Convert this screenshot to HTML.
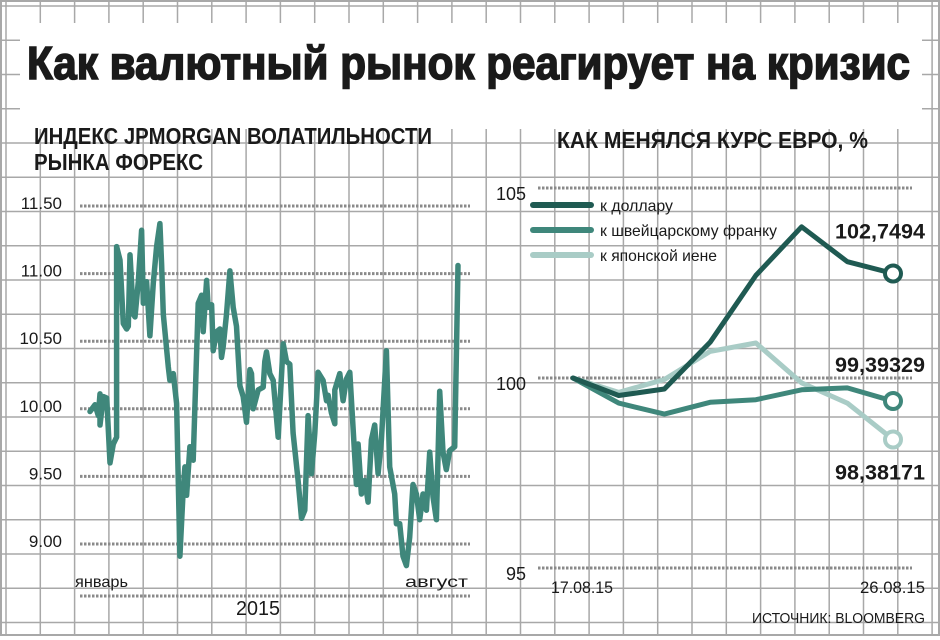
<!DOCTYPE html>
<html><head><meta charset="utf-8"><style>
html,body{margin:0;padding:0;background:#fff;}
svg{display:block;}
text{font-family:"Liberation Sans","DejaVu Sans",sans-serif;fill:#1a1a1a;}
</style></head><body>
<svg id="svg" width="940" height="640" viewBox="0 0 940 640" xmlns="http://www.w3.org/2000/svg">
<g id="grid"></g>
<rect x="20" y="23" width="902" height="106" fill="#fff"/>
<text x="27" y="79" font-size="46" font-weight="bold" stroke="#1a1a1a" stroke-width="1.6" textLength="883" lengthAdjust="spacingAndGlyphs">Как валютный рынок реагирует на кризис</text>
<text x="34" y="144" font-size="23" font-weight="bold" textLength="398" lengthAdjust="spacingAndGlyphs">ИНДЕКС JPMORGAN ВОЛАТИЛЬНОСТИ</text>
<text x="34" y="170" font-size="23" font-weight="bold" textLength="169" lengthAdjust="spacingAndGlyphs">РЫНКА ФОРЕКС</text>
<text x="557" y="148" font-size="23" font-weight="bold" textLength="311" lengthAdjust="spacingAndGlyphs">КАК МЕНЯЛСЯ КУРС ЕВРО, %</text>
<g id="left"></g>
<g id="right"></g>
<text x="75" y="587" font-size="16" textLength="53" lengthAdjust="spacingAndGlyphs">январь</text>
<text x="405" y="587" font-size="16" textLength="63" lengthAdjust="spacingAndGlyphs">август</text>
<line x1="80" y1="596" x2="470" y2="596" stroke="#8a8a8a" stroke-width="3" stroke-dasharray="2.5 1.5"/>
<text x="236" y="615" font-size="20" textLength="44" lengthAdjust="spacingAndGlyphs">2015</text>
<text x="551" y="593" font-size="17" textLength="62" lengthAdjust="spacingAndGlyphs">17.08.15</text>
<text x="860" y="593" font-size="17" textLength="65" lengthAdjust="spacingAndGlyphs">26.08.15</text>
<text x="752" y="623" font-size="15" textLength="173" lengthAdjust="spacingAndGlyphs">ИСТОЧНИК: BLOOMBERG</text>
</svg>
<script>
// ---- Left chart data (JPMorgan FX volatility index, 2015) ----
const volDays = [0,3,5,6,6,8,10,12,14,16,16,18,20,22,23,24,26,27,29,31,32,34,36,38,40,42,43,44,47,48,50,52,54,56,57,58,60,62,65,67,68,70,71,73,74,76,78,79,80,82,84,86,88,90,92,94,96,97,98,101,104,105,106,108,110,113,116,118,120,122,125,127,129,131,133,135,137,140,142,143,145,147,147,150,152,154,156,160,161,163,165,167,169,171,173,175,178,180,183,184,186,188,190,192,194,196,198,200,202,204,206,208,210,212,214,216,219,221];
const volValues = [9.98,10.03,9.95,10.11,9.88,10.09,10.08,9.60,9.74,9.79,11.20,11.10,10.63,10.59,10.61,11.14,10.70,10.68,10.94,11.32,10.78,10.94,10.54,10.93,11.20,11.37,11.07,10.70,10.31,10.21,10.26,10.04,8.91,9.40,9.57,9.36,9.72,9.62,10.78,10.84,10.57,10.95,10.75,10.77,10.43,10.57,10.59,10.38,10.46,10.70,11.02,10.75,10.61,10.17,10.09,9.90,10.29,10.26,10.00,10.14,10.16,10.35,10.42,10.26,10.21,9.79,10.48,10.35,10.33,9.82,9.47,9.19,9.25,9.95,9.52,9.82,10.27,10.21,10.06,10.10,9.97,9.89,10.14,10.26,10.06,10.22,10.27,9.44,9.74,9.37,9.47,9.31,9.77,9.88,9.52,9.77,10.43,9.57,9.37,9.15,9.15,8.91,8.84,9.05,9.44,9.37,9.18,9.37,9.25,9.68,9.35,9.18,10.13,9.68,9.55,9.69,9.72,11.06];
const volTicks = [11.5,11.0,10.5,10.0,9.5,9.0];
const volTickLabels = ["11.50","11.00","10.50","10.00","9.50","9.00"];

// ---- Right chart data (euro exchange rate, %) ----
const fxDates = ["17.08","18.08","19.08","20.08","21.08","24.08","25.08","26.08"];
const usdValues = [100,99.54,99.71,100.94,102.7,103.98,103.06,102.7494];
const chfValues = [100,99.34,99.05,99.36,99.43,99.69,99.74,99.39329];
const jpyValues = [100,99.62,99.96,100.70,100.92,99.87,99.34,98.38171];
const fxTicks = [105,100,95];
const fxSeriesNames = ["к доллару","к швейцарскому франку","к японской иене"];
const fxEndLabels = ["102,7494","99,39329","98,38171"];

const NS = "http://www.w3.org/2000/svg";
function mk(tag, attrs, parent){
  const e = document.createElementNS(NS, tag);
  for (const k in attrs) e.setAttribute(k, attrs[k]);
  parent.appendChild(e);
  return e;
}

// grid
const grid = document.getElementById('grid');
for (let i = 0; i <= 27; i++) {
  const x = 6 + i * 34.3;
  const l = mk('line', {x1:x, y1:0, x2:x, y2:636, stroke:'#a8a8a8', 'stroke-width':1.5}, grid);
  
  
}
for (let j = 0; j <= 18; j++) {
  const y = 6 + j * 34.25;
  const l = mk('line', {x1:0, y1:y, x2:940, y2:y, stroke:'#a8a8a8', 'stroke-width':1.5}, grid);
  
  
}
const border = mk('rect', {x:1, y:1, width:938, height:634, fill:'none', stroke:'#a8a8a8', 'stroke-width':2}, grid);



// left chart scales
const L = document.getElementById('left');
const lx = d => 90 + d * (368 / 221);
const ly = v => 206 + (11.5 - v) * (338 / 2.5);
volTicks.forEach((t, i) => {
  const y = ly(t);
  const gl = mk('line', {x1:80, y1:y, x2:470, y2:y, stroke:'#8a8a8a', 'stroke-width':3, 'stroke-dasharray':'2.5 1.5'}, L);
  
  
  const tx = mk('text', {x:62, y:y + 3, 'font-size':17, 'text-anchor':'end'}, L);
  tx.textContent = volTickLabels[i];
  
  
});
const vp = volValues.map((v, i) => lx(volDays[i]).toFixed(1) + ',' + ly(v).toFixed(1)).join(' ');
const vline = mk('polyline', {points:vp, fill:'none', stroke:'#3f877b', 'stroke-width':5.5, 'stroke-linejoin':'round', 'stroke-linecap':'round'}, L);



// right chart scales
const R = document.getElementById('right');
const rx = i => 573 + i * (320 / (fxDates.length - 1));
const ry = v => 378 - (v - 100) * 38;
fxTicks.forEach(t => {
  const y = ry(t);
  const gl = mk('line', {x1:538, y1:y, x2:912, y2:y, stroke:'#8a8a8a', 'stroke-width':3, 'stroke-dasharray':'2.5 1.5'}, R);
  
  
  const tx = mk('text', {x:526, y:y + 12, 'font-size':18, 'text-anchor':'end'}, R);
  tx.textContent = String(t);
  
  
});
const colors = ['#1f5a52', '#3f877b', '#a9ccc6'];
const seriesList = [usdValues, chfValues, jpyValues];
[2, 1, 0].forEach(s => {
  const vals = seriesList[s];
  const pts = vals.map((v, i) => rx(i).toFixed(1) + ',' + ry(v).toFixed(1)).join(' ');
  const pl = mk('polyline', {points:pts, fill:'none', stroke:colors[s], 'stroke-width':5, 'stroke-linejoin':'round', 'stroke-linecap':'round'}, R);
  
  
  const last = vals.length - 1;
  const c = mk('circle', {cx:rx(last), cy:ry(vals[last]), r:8, fill:'#fff', stroke:colors[s], 'stroke-width':4}, R);
  
  
});
const endLabelOffsets = [-35, -29, 40];
fxEndLabels.forEach((lab, s) => {
  const vals = seriesList[s];
  const t = mk('text', {x:925, y:ry(vals[vals.length - 1]) + endLabelOffsets[s], 'font-size':21, 'font-weight':'bold', 'text-anchor':'end', textLength:90, lengthAdjust:'spacingAndGlyphs'}, R);
  t.textContent = lab;
  
  
});
const legendW = [73, 177, 117];
fxSeriesNames.forEach((n, s) => {
  const y = 205 + s * 25;
  const l = mk('line', {x1:533, y1:y, x2:591, y2:y, stroke:colors[s], 'stroke-width':6, 'stroke-linecap':'round'}, R);
  
  
  const t = mk('text', {x:600, y:y + 6, 'font-size':16, textLength:legendW[s], lengthAdjust:'spacingAndGlyphs'}, R);
  t.textContent = n;
  
  
});
</script>
</body></html>
